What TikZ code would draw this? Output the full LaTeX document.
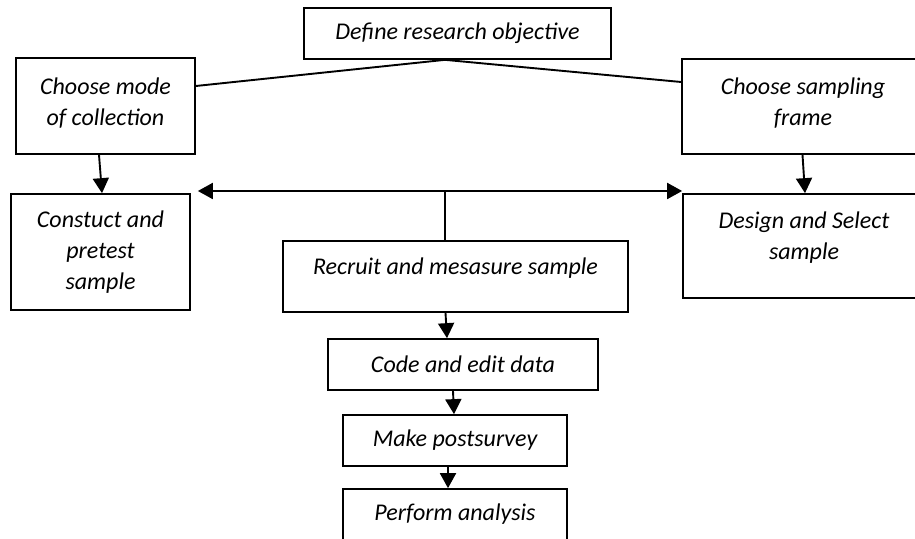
\documentclass[tikz,border=0pt]{standalone}
\usepackage{fontspec}
\setmainfont{Carlito}
\usetikzlibrary{arrows.meta}
\usetikzlibrary{positioning}

\begin{document}
\begin{tikzpicture}[
                x=1pt, y=1pt,
                stage/.style={draw, line width=1.7pt, align=center,
                        font=\fontsize{24}{31}\selectfont\itshape,
                        inner sep=0pt},
                arrow/.style={-{Triangle[length=15pt, width=16pt]}, line width=1.9pt},
                link/.style={line width=1.9pt},
            ]
            \useasboundingbox (0,0) rectangle (915,538);

            \node[stage, minimum width=307, minimum height=51] (objective) at (457.5,504.5) {Define research objective};
            \node[stage, minimum width=179, minimum height=96, text depth=9pt] (mode_choice) at (105.5,432) {Choose mode\\of collection};
            \node[stage, minimum width=242, minimum height=95, text depth=9pt] (sampling_frame) at (803,431.5) {Choose sampling\\frame};
            \node[stage, minimum width=179, minimum height=116] (construct) at (100.5,286) {Constuct and\\pretest\\sample};
            \node[stage, minimum width=345, minimum height=71, text depth=20pt] (recruit) at (455.5,261.5) {Recruit and mesasure sample};
            \node[stage, minimum width=242, minimum height=104, text depth=21pt] (design) at (804,292) {Design and Select\\sample};
            \node[stage, minimum width=270, minimum height=51] (code_edit) at (463,173.5) {Code and edit data};
            \node[stage, minimum width=224, minimum height=51] (postsurvey) at (455,97.5) {Make postsurvey};
            \node[stage, minimum width=224, minimum height=51] (analysis) at (455,23.5) {Perform analysis};

            \coordinate (hub) at (445,347);

            % objective splits to both sides
            \draw[link] ([xshift=-12.5pt]objective.south) -- ([yshift=20pt]mode_choice.east);
            \draw[link] ([xshift=-12.5pt]objective.south) -- ([yshift=24.5pt]sampling_frame.west);

            \draw[arrow] ([xshift=-6.5pt]mode_choice.south) -- ([xshift=1.5pt]construct.north);
            \draw[arrow] ([xshift=-0.5pt]sampling_frame.south) -- ([xshift=1pt]design.north);

            \draw[arrow] (hub) -- ([xshift=7pt]hub -| construct.east);
            \draw[arrow] (hub) -- (hub -| design.west);
            \draw[link] (hub) -- (hub |- recruit.north);

            \draw[arrow] ([xshift=-10pt]recruit.south) -- ([xshift=-16pt]code_edit.north);
            \draw[arrow] ([xshift=-10pt]code_edit.south) -- ([xshift=-1pt]postsurvey.north);
            \draw[arrow] ([xshift=-7pt]postsurvey.south) -- ([xshift=-7pt]analysis.north);
        \end{tikzpicture}
\end{document}
